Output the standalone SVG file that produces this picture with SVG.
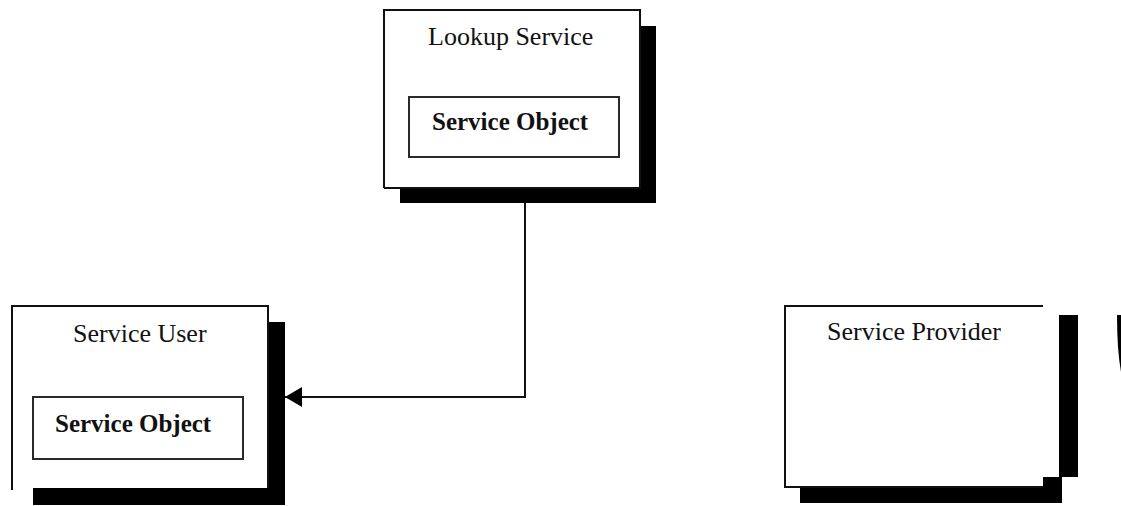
<svg xmlns="http://www.w3.org/2000/svg" width="1121" height="506" viewBox="0 0 1121 506">
  <style>
    .edge { fill: none; stroke: #111111; stroke-width: 2; }
    .shadow { fill: #000000; }
    .inner { fill: #ffffff; stroke: #2a2a2a; stroke-width: 2; }
    .title { font-family: "Liberation Serif", "Times New Roman", serif; font-size: 26px; fill: #111111; }
    .obj { font-family: "Liberation Serif", "Times New Roman", serif; font-size: 25px; font-weight: bold; fill: #111111; }
    .wire { fill: none; stroke: #111111; stroke-width: 2; }
  </style>
  <defs>
    <marker id="arrow" viewBox="0 0 17 20" refX="17" refY="10" markerWidth="17" markerHeight="20" markerUnits="userSpaceOnUse" orient="auto">
      <path d="M0,0 L17,10 L0,20 Z" fill="#000000"/>
    </marker>
  </defs>
  <rect width="1121" height="506" fill="#ffffff"/>

  <!-- Lookup Service -->
  <g id="lookup-service">
    <rect class="shadow" x="640" y="26" width="16" height="177"/>
    <rect class="shadow" x="400" y="188" width="256" height="15"/>
    <path class="edge" d="M384,188 V10 H640 V188 H384"/>
    <text class="title" x="428" y="45">Lookup Service</text>
    <g id="lookup-service-object">
      <rect class="inner" x="409" y="97" width="210" height="60"/>
      <text class="obj" x="432" y="130">Service Object</text>
    </g>
  </g>

  <!-- Service User -->
  <g id="service-user">
    <rect class="shadow" x="267" y="322" width="18" height="183"/>
    <rect class="shadow" x="33" y="488" width="252" height="17"/>
    <path class="edge" d="M12,490 V306 H268 V488"/>
    <text class="title" x="73" y="342">Service User</text>
    <g id="user-service-object">
      <rect class="inner" x="33" y="397" width="210" height="62"/>
      <text class="obj" x="55" y="432">Service Object</text>
    </g>
  </g>

  <!-- Service Provider -->
  <g id="service-provider">
    <rect class="shadow" x="1059" y="315" width="19" height="162"/>
    <rect class="shadow" x="1043" y="477" width="19" height="10"/>
    <rect class="shadow" x="800" y="487" width="262" height="16"/>
    <path class="edge" d="M1043,306 H785 V487 H1043"/>
    <text class="title" x="827" y="340">Service Provider</text>
  </g>

  <!-- partial shape at the right margin -->
  <path class="shadow" d="M1117,315 H1121 V372 Q1117,350 1117,315 Z"/>

  <!-- connectors -->
  <g id="connectors">
    <path class="wire" d="M525,203 V397 H285" marker-end="url(#arrow)"/>
  </g>
</svg>
